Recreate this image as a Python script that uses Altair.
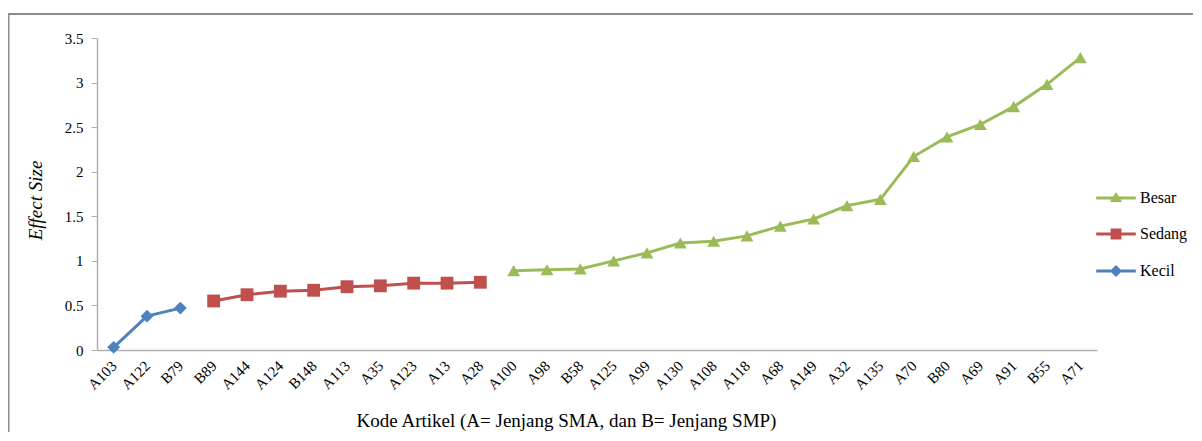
import altair as alt
import pandas as pd

kode = ["A103", "A122", "B79",
        "B89", "A144", "A124", "B148", "A113", "A35", "A123", "A13", "A28",
        "A100", "A98", "B58", "A125", "A99", "A130", "A108", "A118", "A68",
        "A149", "A32", "A135", "A70", "B80", "A69", "A91", "B55", "A71"]
effect = [0.03, 0.38, 0.47,
          0.55, 0.62, 0.66, 0.67, 0.71, 0.72, 0.75, 0.75, 0.76,
          0.89, 0.90, 0.91, 1.00, 1.09, 1.20, 1.22, 1.28, 1.39,
          1.47, 1.62, 1.69, 2.17, 2.39, 2.53, 2.73, 2.98, 3.28]
kelompok = ["Kecil"] * 3 + ["Sedang"] * 9 + ["Besar"] * 18

series = ["Besar", "Sedang", "Kecil"]
colors = ["#9BBB59", "#C0504D", "#4F81BD"]
shapes = ["triangle-up", "square", "diamond"]
# legend symbols: a line segment with the marker on it (filled paths)
legend_paths = [
    "M-1.1,-0.08H1.1V0.08H-1.1ZM0,-0.34L0.34,0.22L-0.34,0.22Z",
    "M-1.1,-0.08H1.1V0.08H-1.1ZM-0.3,-0.3H0.3V0.3H-0.3Z",
    "M-1.1,-0.08H1.1V0.08H-1.1ZM0,-0.34L0.34,0L0,0.34L-0.34,0Z",
]

df = pd.DataFrame({"kode": kode, "effect": effect, "kelompok": kelompok})
df["warna"] = df["kelompok"].map(dict(zip(series, colors)))

FONT = "Liberation Serif"

x_enc = alt.X(
    "kode:N", sort=kode, scale=alt.Scale(paddingInner=0, paddingOuter=0.5),
    axis=alt.Axis(
        title="Kode Artikel  (A= Jenjang SMA, dan B= Jenjang SMP)",
        labelAngle=315, labelAlign="right", labelBaseline="middle",
        labelPadding=13, ticks=False, labelFont=FONT, labelFontSize=15,
        labelColor="#000000", titleFont=FONT, titleFontSize=19,
        titleFontWeight="normal", titleColor="#000000",
        titleX=469, titleY=76, titleBaseline="alphabetic", titleAnchor="start",
        titleAlign="center", domainColor="#B0B0B0", domainWidth=1.5,
        labelOverlap=False,
    ),
)
y_enc = alt.Y(
    "effect:Q", scale=alt.Scale(domain=[0, 3.5], nice=False, zero=True),
    axis=alt.Axis(
        title="Effect Size", values=[0, 0.5, 1, 1.5, 2, 2.5, 3, 3.5],
        format="~g", grid=False, tickSize=6, tickColor="#B0B0B0",
        domainColor="#B0B0B0", domainWidth=1.5, labelPadding=8,
        labelFont=FONT, labelFontSize=15, labelColor="#000000",
        titleFont=FONT, titleFontSize=19, titleFontStyle="italic",
        titleFontWeight="normal", titleColor="#000000",
        titleX=-62, titleY=162, titleAngle=270, titleBaseline="middle",
        titleAlign="center", titleAnchor="start",
    ),
)

# identity colours for the drawn marks (no legend from them)
color_enc = alt.Color("warna:N", scale=None)

base = alt.Chart(df)

lines = base.mark_line(strokeWidth=3).encode(
    x=x_enc, y=y_enc, color=color_enc, detail="kelompok:N",
)

point_layers = [
    base.transform_filter(alt.datum.kelompok == s).mark_point(
        filled=True, opacity=1, size=165, shape=shp
    ).encode(x=x_enc, y=y_enc, color=color_enc)
    for s, shp in zip(series, shapes)
]

legend_props = dict(title=None, labelFont=FONT, labelFontSize=16,
                    labelColor="#000000", rowPadding=9, labelOffset=5)

# empty layer whose only job is to carry the legend
legend_layer = base.transform_filter("false").mark_point(
    filled=True, opacity=1
).encode(
    x=x_enc, y=y_enc,
    fill=alt.Fill("kelompok:N", scale=alt.Scale(domain=series, range=colors),
                  legend=alt.Legend(**legend_props)),
    shape=alt.Shape("kelompok:N",
                    scale=alt.Scale(domain=series, range=legend_paths),
                    legend=alt.Legend(**legend_props)),
)

frame = alt.Chart(pd.DataFrame({"f": [0]})).mark_rect(
    fillOpacity=0, stroke="#8C8C8C", strokeWidth=2
).encode(
    x=alt.value(-88.5), x2=alt.value(1300),
    y=alt.value(-24), y2=alt.value(600),
)

chart = alt.layer(frame, lines, *point_layers, legend_layer).properties(
    width=1000, height=312,
    autosize=alt.AutoSizeParams(type="none"),
    padding={"left": 89, "top": 30, "right": 96, "bottom": 82},
).configure(background="#FFFFFF").configure_view(stroke=None).configure_legend(
    orient="none", legendX=1000, legendY=141, padding=0,
    symbolSize=1296, labelFont=FONT, labelFontSize=16,
    labelColor="#000000", rowPadding=9, labelOffset=5,
)

chart.save("out.html", embed_options={"renderer": "svg", "actions": False})
